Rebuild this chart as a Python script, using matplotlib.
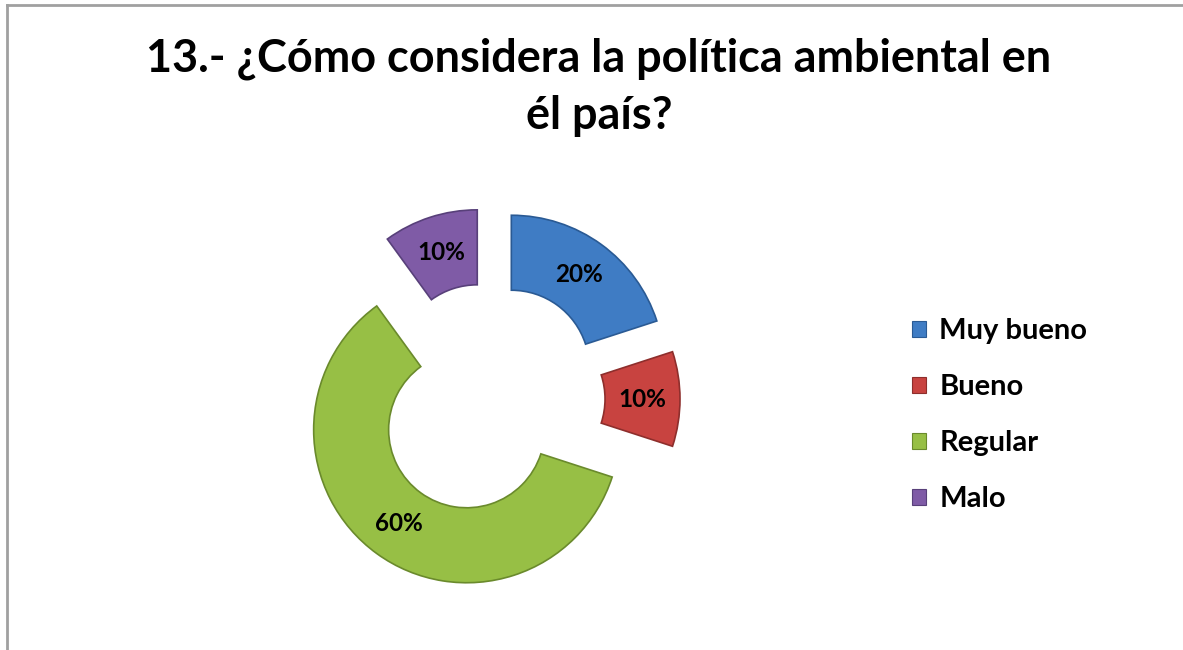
import matplotlib.pyplot as plt
from matplotlib.patches import Patch
from matplotlib.lines import Line2D

# data
categories = ['Muy bueno', 'Bueno', 'Regular', 'Malo']
values = [20, 10, 60, 10]
colors = ['#3F7CC4', '#C84340', '#97BF45', '#7F5BA6']
edges = ['#2A5A94', '#8E2E2C', '#6A8A2C', '#58407A']
title_lines = ['13.- ¿Cómo considera la política ambiental en', 'él país?']

plt.rcParams['font.family'] = ['Lato', 'DejaVu Sans']

W, H = 1183, 650
fig = plt.figure(figsize=(W / 100, H / 100), dpi=100)
ax = fig.add_axes([0, 0, 1, 1])

# donut, every slice pulled out (explode is in data units here = pixels)
R = 153
wedges, texts, autotexts = ax.pie(
    values, radius=R, center=(489, H - 399), startangle=90, counterclock=False,
    colors=colors, explode=[38] * 4, autopct='%1.0f%%', pctdistance=0.755,
    wedgeprops=dict(width=R * 0.49, linewidth=1.2),
    textprops=dict(fontsize=17.5, fontweight='bold', color='black'),
    frame=True)
for w, ec in zip(wedges, edges):
    w.set_edgecolor(ec)
ax.set_xlim(0, W)
ax.set_ylim(0, H)
ax.set_aspect('equal')
ax.axis('off')

# title
fig.text(599 / W, 1 - 72 / H, title_lines[0], ha='center', va='baseline',
         fontsize=32.4, fontweight='bold')
fig.text(599 / W, 1 - 129 / H, title_lines[1], ha='center', va='baseline',
         fontsize=32.4, fontweight='bold')

# legend
handles = [Patch(facecolor=c, edgecolor=e, linewidth=0.8) for c, e in zip(colors, edges)]
leg = fig.legend(handles, categories, loc='upper left',
                 bbox_to_anchor=(912 / W, 1 - 318 / H), frameon=False,
                 prop=dict(size=21, weight='bold'), handlelength=0.48,
                 handleheight=0.48, handletextpad=0.45, labelspacing=1.03,
                 borderpad=0, borderaxespad=0)

# chart border (top and left visible)
fig.add_artist(Line2D([6.5 / W, 6.5 / W], [0, 1 - 5 / H], color='#A0A0A0', lw=2,
                      transform=fig.transFigure))
fig.add_artist(Line2D([6.5 / W, 1], [1 - 5 / H, 1 - 5 / H], color='#A0A0A0', lw=2,
                      transform=fig.transFigure))

fig.savefig('out.png', dpi=100)
